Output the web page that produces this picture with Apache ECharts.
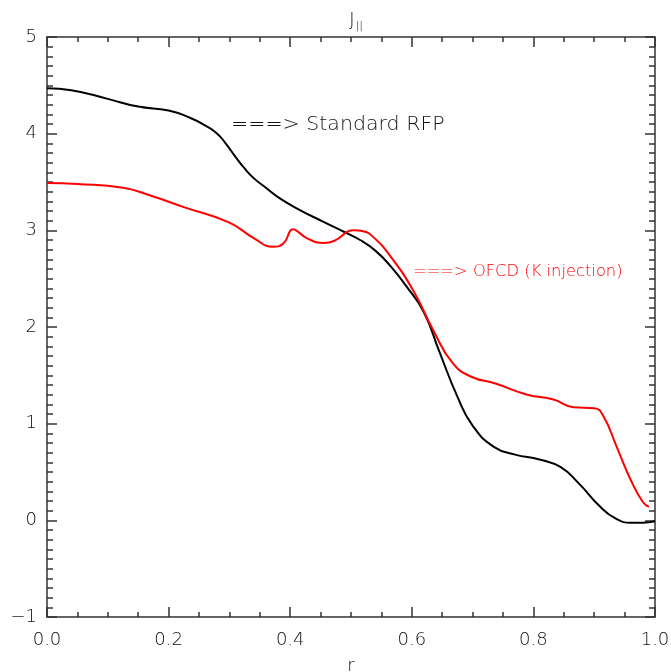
<!DOCTYPE html>
<html>
<head>
<meta charset="utf-8">
<script src="https://cdn.jsdelivr.net/npm/echarts@6/dist/echarts.min.js"></script>
<style>
  html, body { margin: 0; padding: 0; background: #fff; }
  #main { width: 671px; height: 672px; }
</style>
</head>
<body>
<div id="main"></div>
<script>
// r values and J|| profiles
var standardRFP = [
    [0, 4.47], [0.04, 4.45], [0.1, 4.36], [0.15, 4.28], [0.2, 4.24], [0.235, 4.165],
    [0.26, 4.085], [0.28, 4.0], [0.295, 3.89], [0.31, 3.76], [0.325, 3.64], [0.34, 3.54],
    [0.36, 3.44], [0.383, 3.33], [0.416, 3.21], [0.454, 3.09], [0.49, 2.98], [0.515, 2.9],
    [0.54, 2.79], [0.565, 2.63], [0.59, 2.43], [0.62, 2.15], [0.645, 1.75], [0.675, 1.28],
    [0.7, 0.98], [0.735, 0.76], [0.77, 0.68], [0.81, 0.63], [0.845, 0.55], [0.875, 0.38],
    [0.91, 0.14], [0.935, 0.02], [0.96, -0.025], [0.98, -0.025], [1.0, -0.01]
];
var ofcd = [
    [0, 3.49], [0.05, 3.48], [0.125, 3.44], [0.17, 3.36], [0.225, 3.24], [0.3, 3.08],
    [0.34, 2.92], [0.372, 2.83], [0.388, 2.86], [0.405, 3.01], [0.412, 2.99], [0.427, 2.92],
    [0.455, 2.87], [0.472, 2.89], [0.505, 3.0], [0.52, 2.99], [0.535, 2.94], [0.565, 2.73],
    [0.603, 2.37], [0.635, 1.97], [0.668, 1.62], [0.7, 1.48], [0.735, 1.42], [0.79, 1.3],
    [0.833, 1.25], [0.866, 1.17], [0.9, 1.16], [0.915, 1.08], [0.937, 0.76], [0.96, 0.42],
    [0.98, 0.19], [0.99, 0.14]
];
var labelStandard = '===> Standard RFP';
var labelOfcd = '===> OFCD (K injection)';

var font = 'DejaVu Sans';
var axisColor = '#333';

var chart = echarts.init(document.getElementById('main'), null, {renderer: 'canvas'});

function xAxisDef(pos, show) {
    return {
        type: 'value', position: pos, min: 0, max: 1, interval: 0.2,
        axisLine: {show: true, onZero: false, lineStyle: {color: axisColor, width: 1.5}},
        axisTick: {show: true, inside: true, length: 10, lineStyle: {color: axisColor, width: 1.5}},
        minorTick: {show: true, splitNumber: 4, length: 5, lineStyle: {color: axisColor, width: 1.5}},
        splitLine: {show: false},
        axisLabel: {
            show: show, margin: 14, color: '#111', fontFamily: font, fontWeight: 200, fontSize: 18,
            formatter: function (v) { return v.toFixed(1); }
        },
        name: show ? 'r' : '', nameLocation: 'middle', nameGap: 40,
        nameTextStyle: {color: '#111', fontFamily: font, fontWeight: 200, fontSize: 18}
    };
}

function yAxisDef(pos, show) {
    return {
        type: 'value', position: pos, min: -1, max: 5, interval: 1,
        axisLine: {show: true, onZero: false, lineStyle: {color: axisColor, width: 1.5}},
        axisTick: {show: true, inside: true, length: 10, lineStyle: {color: axisColor, width: 1.5}},
        minorTick: {show: true, splitNumber: 10, length: 6, lineStyle: {color: axisColor, width: 1.5}},
        splitLine: {show: false},
        axisLabel: {
            show: show, margin: 10, color: '#111', fontFamily: font, fontWeight: 200, fontSize: 18,
            formatter: function (v) { return String(v).replace('-', '\u2212'); }
        }
    };
}

chart.setOption({
    backgroundColor: '#fff',
    animation: false,
    title: {
        text: '{j|J}{s|||}',
        left: 351, top: 4, textAlign: 'center',
        textStyle: {
            rich: {
                j: {fontFamily: font, fontWeight: 200, fontSize: 18, color: '#111'},
                s: {fontFamily: font, fontWeight: 200, fontSize: 11, color: '#111', padding: [12, 0, 0, 1]}
            }
        }
    },
    grid: {left: 47, right: 16, top: 37, bottom: 55, outerBoundsMode: 'none'},
    xAxis: [xAxisDef('bottom', true), xAxisDef('top', false)],
    yAxis: [yAxisDef('left', true), yAxisDef('right', false)],
    series: [
        {
            type: 'line', data: standardRFP, smooth: 0.5, showSymbol: false,
            lineStyle: {color: '#000', width: 2}
        },
        {
            type: 'line', data: ofcd, smooth: 0.5, showSymbol: false,
            lineStyle: {color: '#f00', width: 2}
        }
    ],
    graphic: [
        {
            type: 'text', left: 231, top: 116, scaleX: 1.08,
            style: {text: labelStandard, fill: '#111', font: '200 19px "DejaVu Sans"'}
        },
        {
            type: 'text', left: 413, top: 264, scaleX: 1.02,
            style: {text: labelOfcd, fill: '#f00', font: '200 16px "DejaVu Sans"'}
        }
    ]
});
</script>
</body>
</html>
